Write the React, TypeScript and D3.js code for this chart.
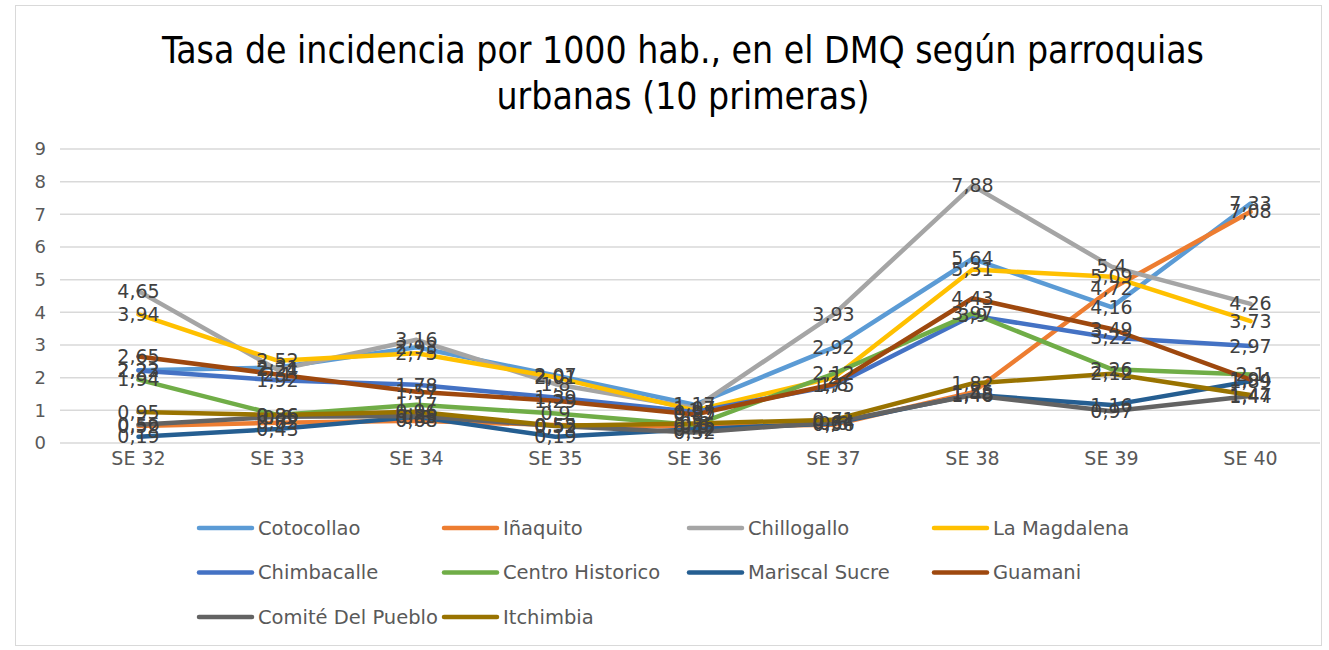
import React from "react";
import * as d3 from "d3";

const categories = ["SE 32", "SE 33", "SE 34", "SE 35", "SE 36", "SE 37", "SE 38", "SE 39", "SE 40"];
const seriesNames = ["Cotocollao", "Iñaquito", "Chillogallo", "La Magdalena", "Chimbacalle", "Centro Historico", "Mariscal Sucre", "Guamani", "Comité Del Pueblo", "Itchimbia"];
const seriesColors = ["#5B9BD5", "#ED7D31", "#A5A5A5", "#FFC000", "#4472C4", "#70AD47", "#255E91", "#9E480E", "#636363", "#997300"];
const cotocollao = [2.23, 2.31, 2.93, 2.07, 1.17, 2.92, 5.64, 4.16, 7.33];
const inaquito = [0.52, 0.62, 0.68, 0.55, 0.5, 0.56, 1.55, 4.72, 7.08];
const chillogallo = [4.65, 2.24, 3.16, 1.8, 1.07, 3.93, 7.88, 5.4, 4.26];
const laMagdalena = [3.94, 2.52, 2.75, 2.01, 1.0, 2.0, 5.31, 5.09, 3.73];
const chimbacalle = [2.22, 1.92, 1.78, 1.39, 0.95, 1.75, 3.9, 3.22, 2.97];
const centroHistorico = [1.94, 0.86, 1.17, 0.9, 0.55, 2.12, 3.97, 2.26, 2.1];
const mariscalSucre = [0.19, 0.43, 0.8, 0.19, 0.42, 0.6, 1.48, 1.16, 1.89];
const guamani = [2.65, 2.1, 1.57, 1.29, 0.87, 1.8, 4.43, 3.49, 1.94];
const comiteDelPueblo = [0.56, 0.8, 0.83, 0.52, 0.32, 0.64, 1.46, 0.97, 1.44];
const itchimbia = [0.95, 0.86, 0.96, 0.53, 0.6, 0.71, 1.82, 2.12, 1.47];
const seriesValues = [cotocollao, inaquito, chillogallo, laMagdalena, chimbacalle, centroHistorico, mariscalSucre, guamani, comiteDelPueblo, itchimbia];
const yTicks = [0, 1, 2, 3, 4, 5, 6, 7, 8, 9];
const titleLines = ["Tasa de incidencia por 1000 hab., en el DMQ según parroquias", "urbanas (10 primeras)"];

const W = 1329, H = 650;
const FONT = "'DejaVu Sans', Verdana, sans-serif";
const TITLE_FONT = "'DejaVu Sans Condensed', 'DejaVu Sans', sans-serif";

export default function App() {
  const x = d3.scalePoint<string>().domain(categories).range([69, 1320]).padding(0.5);
  const y = d3.scaleLinear().domain([0, 9]).range([443, 149]);
  const line = d3.line<number>().x((_, i) => x(categories[i]) as number).y((d) => y(d));
  const fmt = (v: number) => String(v).replace(".", ",");

  return (
    <svg width={W} height={H} style={{ position: "absolute", left: 0, top: 0, background: "#fff" }}>
      <rect x={15.5} y={5.5} width={1306} height={640} fill="#fff" stroke="#D9D9D9" />
      {titleLines.map((t, i) => (
        <text key={i} x={683} y={63 + i * 46} textAnchor="middle" fontFamily={TITLE_FONT} fontStretch="condensed" fontSize={37} fill="#000">{t}</text>
      ))}
      {yTicks.map((t) => (
        <g key={t}>
          <line x1={60} x2={1320} y1={y(t)} y2={y(t)} stroke="#D9D9D9" strokeWidth={1.5} />
          <text x={46} y={y(t)} dy="0.35em" textAnchor="end" fontFamily={FONT} fontSize={18} fill="#595959">{t}</text>
        </g>
      ))}
      {categories.map((c) => (
        <text key={c} x={x(c)} y={458} dy="0.35em" textAnchor="middle" fontFamily={FONT} fontSize={19} fill="#595959">{c}</text>
      ))}
      {seriesValues.map((vals, si) => (
        <path key={si} d={line(vals) || ""} fill="none" stroke={seriesColors[si]} strokeWidth={4.5} strokeLinecap="round" strokeLinejoin="round" />
      ))}
      {seriesValues.map((vals, si) =>
        vals.map((v, i) => (
          <text key={si + "-" + i} x={x(categories[i])} y={y(v)} dy="0.35em" textAnchor="middle" fontFamily={FONT} fontSize={19} fill="#404040">{fmt(v)}</text>
        ))
      )}
      {seriesNames.map((n, i) => {
        const col = i % 4, row = Math.floor(i / 4);
        const lx = 199 + col * 245, ly = 528 + row * 44.5;
        return (
          <g key={n}>
            <line x1={lx} x2={lx + 53} y1={ly} y2={ly} stroke={seriesColors[i]} strokeWidth={4.5} strokeLinecap="round" />
            <text x={lx + 59} y={ly} dy="0.35em" fontFamily={FONT} fontSize={19.5} fill="#595959">{n}</text>
          </g>
        );
      })}
    </svg>
  );
}
